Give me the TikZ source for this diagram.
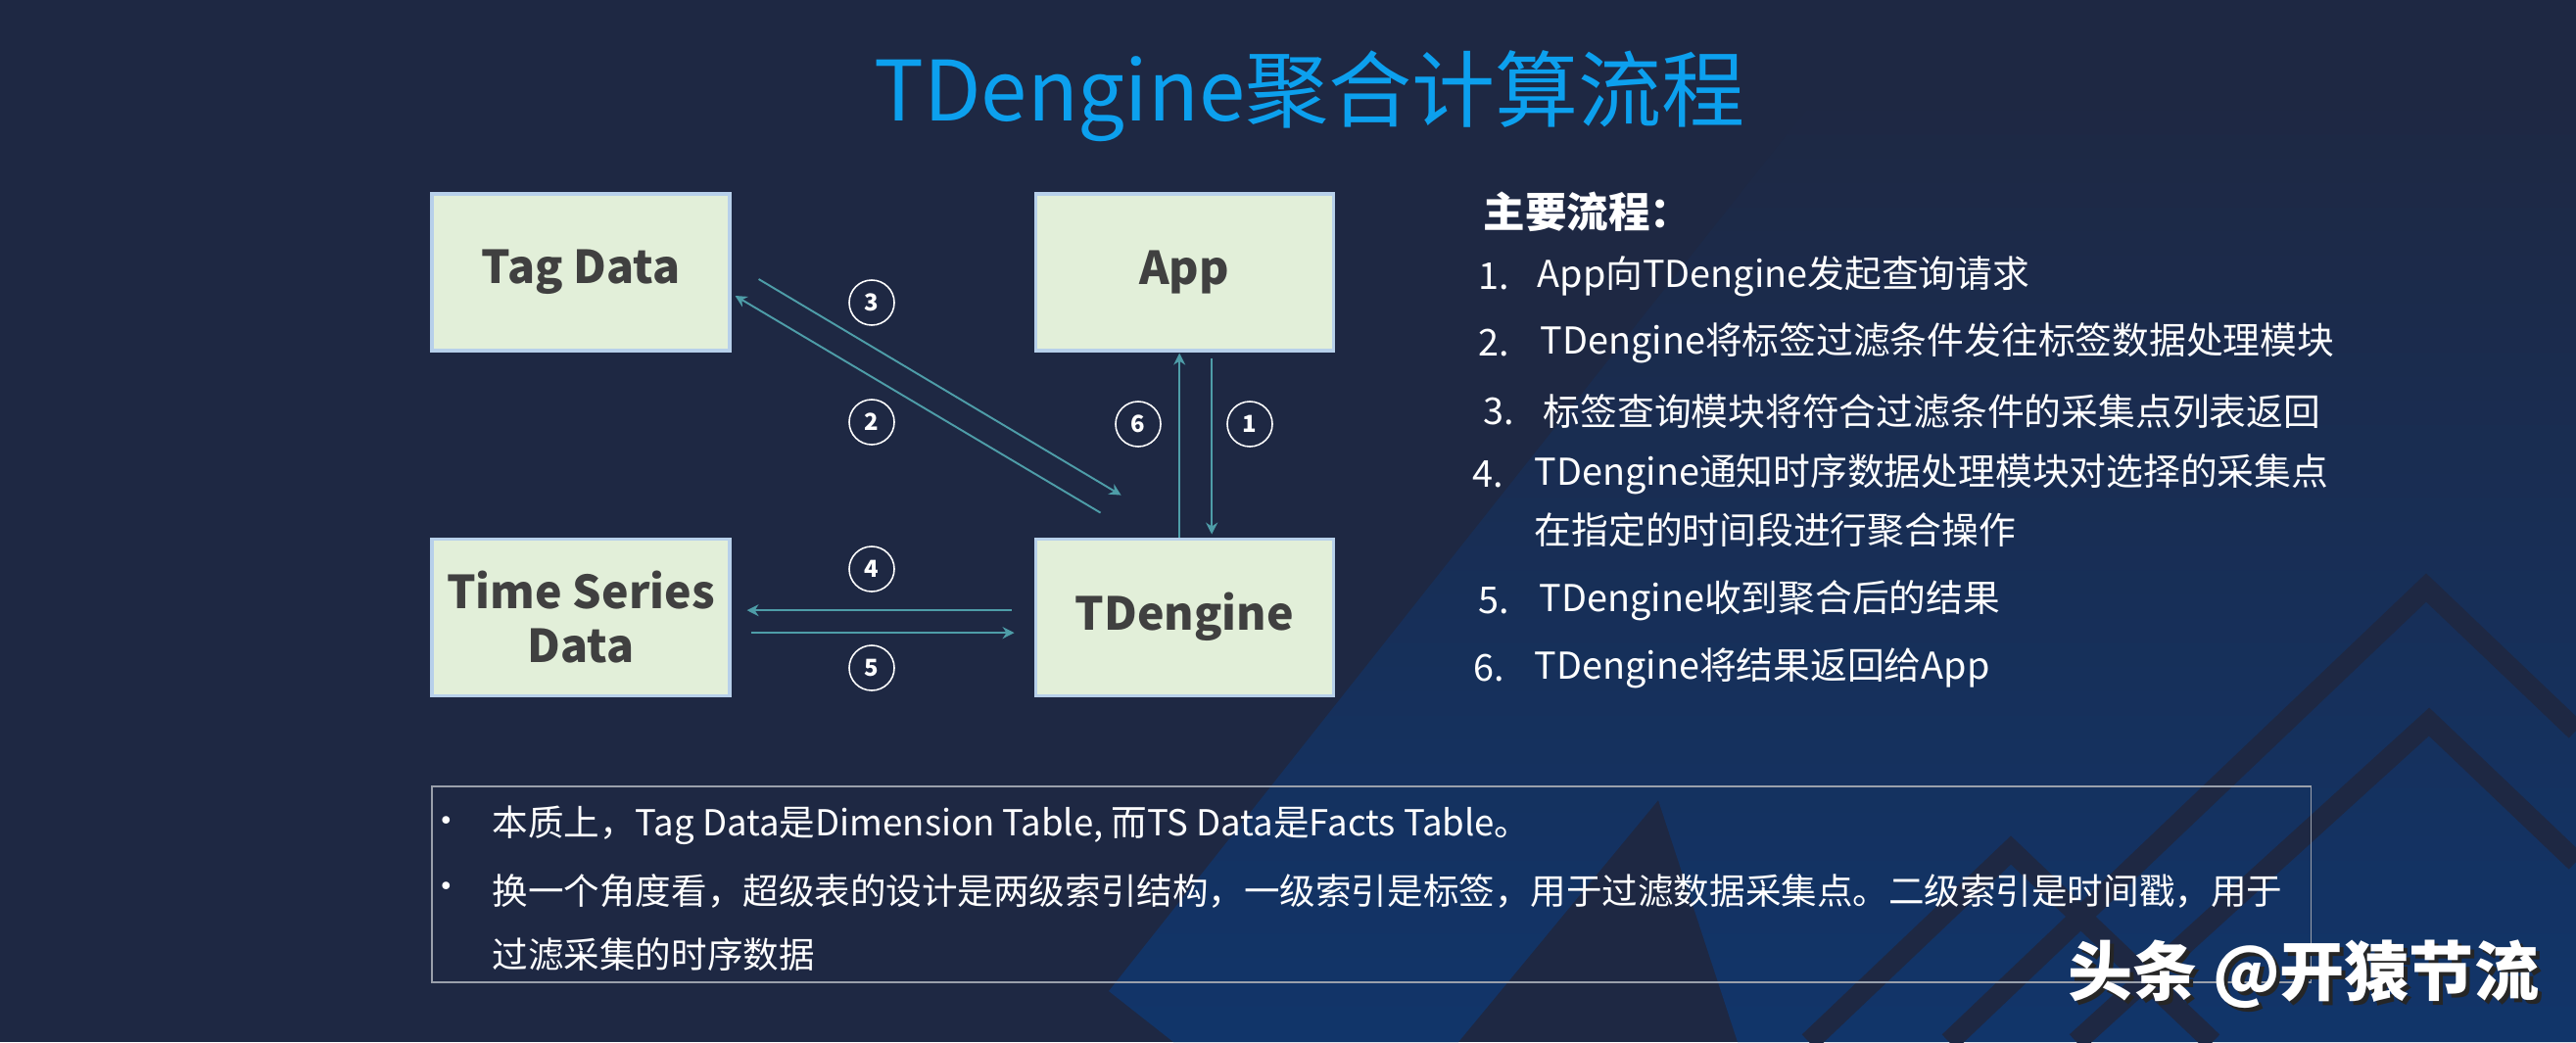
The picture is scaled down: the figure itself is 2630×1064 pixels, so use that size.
\documentclass[tikz,border=0pt]{standalone}
\usepackage{fontspec}
\setmainfont{Noto Sans CJK SC}
\usepackage{tikz}
\usetikzlibrary{arrows.meta,positioning,calc}
\definecolor{bgnavy}{HTML}{1E2843}
\definecolor{bandblue}{HTML}{11356A}
\definecolor{titleblue}{HTML}{0CA0EE}
\definecolor{boxfill}{HTML}{E2EFD9}
\definecolor{boxedge}{HTML}{B7D0EA}
\definecolor{flowteal}{HTML}{4E9DA8}
\definecolor{textgray}{HTML}{404040}
\definecolor{framegray}{HTML}{9AA0AB}
\tikzset{
  block/.style={rectangle,draw=boxedge,fill=boxfill,line width=0.9pt,minimum width=30.4mm,minimum height=16mm,inner sep=0pt,align=center,font=\bfseries\fontsize{13.2}{15.6}\selectfont,text=textgray},
  flow/.style={-{Stealth[length=3.4pt,width=3.4pt]},line width=0.55pt,color=flowteal},
  stepnum/.style={circle,draw=white,line width=0.45pt,minimum size=4.6mm,inner sep=0pt,text=white,font=\bfseries\fontsize{6.8}{8}\selectfont},
  listtext/.style={anchor=west,text=white,inner sep=0pt,font=\fontsize{10.75}{13}\selectfont},
  notetext/.style={anchor=west,text=white,inner sep=0pt,font=\fontsize{10.4}{13}\selectfont},
  chevron/.style={draw=bgnavy,line width=6pt,line join=miter}
}

\begin{document}
\begin{tikzpicture}[x=0.1mm,y=-0.1mm]
  \useasboundingbox (0,0) rectangle (2630,1064);
  % background
  \fill[bgnavy] (0,0) rectangle (2630,1064);
  \begin{scope}
    \clip (0,0) rectangle (2630,1064);
    \shade[top color=bgnavy,bottom color=bandblue] (1132,1012) -- (1198,1064) -- (1489,1064) -- (1693,817) -- (1774,1064) -- (2630,1064) -- (2630,100) -- (1854,100) -- cycle;
    % mountains
    \draw[chevron] (1990,1064) -- (2477,600) -- (2630,746);
    \draw[chevron] (2120,1064) -- (2480,737) -- (2630,880);
    \draw[chevron] (1847,1064) -- (2053,868) -- (2259,1064);
  \end{scope}

  % title
  \node[text=titleblue,font=\fontsize{24.2}{28}\selectfont] (title) at (1337,98) {TDengine聚合计算流程};

  % blocks
  \node[block] (tag) at (593,278) {Tag Data};
  \node[block,right=30.9mm of tag] (app) {App};
  \node[block,below=18.9mm of tag] (tsdata) {Time Series\\Data};
  \node[block,right=30.9mm of tsdata] (tdengine) {TDengine};

  % flows
  \draw[flow] ($(tag.east)+(28,7)$) -- ($(tdengine.north west)+(89,-43)$);
  \draw[flow] ($(tdengine.north west)+(68,-25)$) -- ($(tag.east)+(4,24)$);
  \draw[flow] ($(app.south)+(28,6)$) -- ($(tdengine.north)+(28,-3)$);
  \draw[flow] ($(tdengine.north)+(-5,0)$) -- ($(app.south)+(-5,1)$);
  \draw[flow] ($(tdengine.west)+(-23,-7)$) -- ($(tsdata.east)+(16,-7)$);
  \draw[flow] ($(tsdata.east)+(20,16)$) -- ($(tdengine.west)+(-20,16)$);

  % step numbers
  \foreach \n/\x/\y in {3/890/309,2/890/431,6/1162/433,1/1276/433,4/890/581,5/890/682}
    \node[stepnum] (step\n) at (\x,\y) {\n};

  % main steps
  \node[anchor=west,inner sep=0pt,text=white,font=\bfseries\fontsize{12.1}{14}\selectfont] (listhead) at (1514,216) {主要流程：};
  \foreach \n/\nx/\tx/\y/\txt in {1/1509/1569/282/App向TDengine发起查询请求,
      2/1509/1572/350/TDengine将标签过滤条件发往标签数据处理模块,
      3/1514/1575/420/标签查询模块将符合过滤条件的采集点列表返回,
      4/1503/1566/484/TDengine通知时序数据处理模块对选择的采集点,
      5/1509/1571/613/TDengine收到聚合后的结果,
      6/1504/1566/682/TDengine将结果返回给App} {
    \node[listtext] (num\n) at (\nx,\y) {\n.};
    \node[listtext] (item\n) at (\tx,\y) {\txt};
  }
  \node[listtext] (item4b) at (1566,541) {在指定的时间段进行聚合操作};

  % notes
  \draw[framegray,line width=0.3pt] (441,803) rectangle (2359,1003);
  \draw[framegray,line width=0.7pt] (441,803) -- (2359,803) (441,1003) -- (2359,1003);
  \node[notetext] (bullet1) at (437,843) {•};
  \node[notetext] (note1) at (502,843) {本质上，Tag Data是Dimension Table, 而TS Data是Facts Table。};
  \node[notetext] (bullet2) at (437,910) {•};
  \node[notetext] (note2) at (502,910) {换一个角度看，超级表的设计是两级索引结构，一级索引是标签，用于过滤数据采集点。二级索引是时间戳，用于};
  \node[notetext] (note3) at (502,975) {过滤采集的时序数据};

  % watermark
  \node[anchor=west,inner sep=0pt,text=black!85,font=\bfseries\fontsize{18.8}{22}\selectfont] (markshadow) at (2115,999) {头条 @开猿节流};
  \node[anchor=west,inner sep=0pt,text=white,font=\bfseries\fontsize{18.8}{22}\selectfont] (mark) at (2111,995) {头条 @开猿节流};
\end{tikzpicture}
\end{document}
